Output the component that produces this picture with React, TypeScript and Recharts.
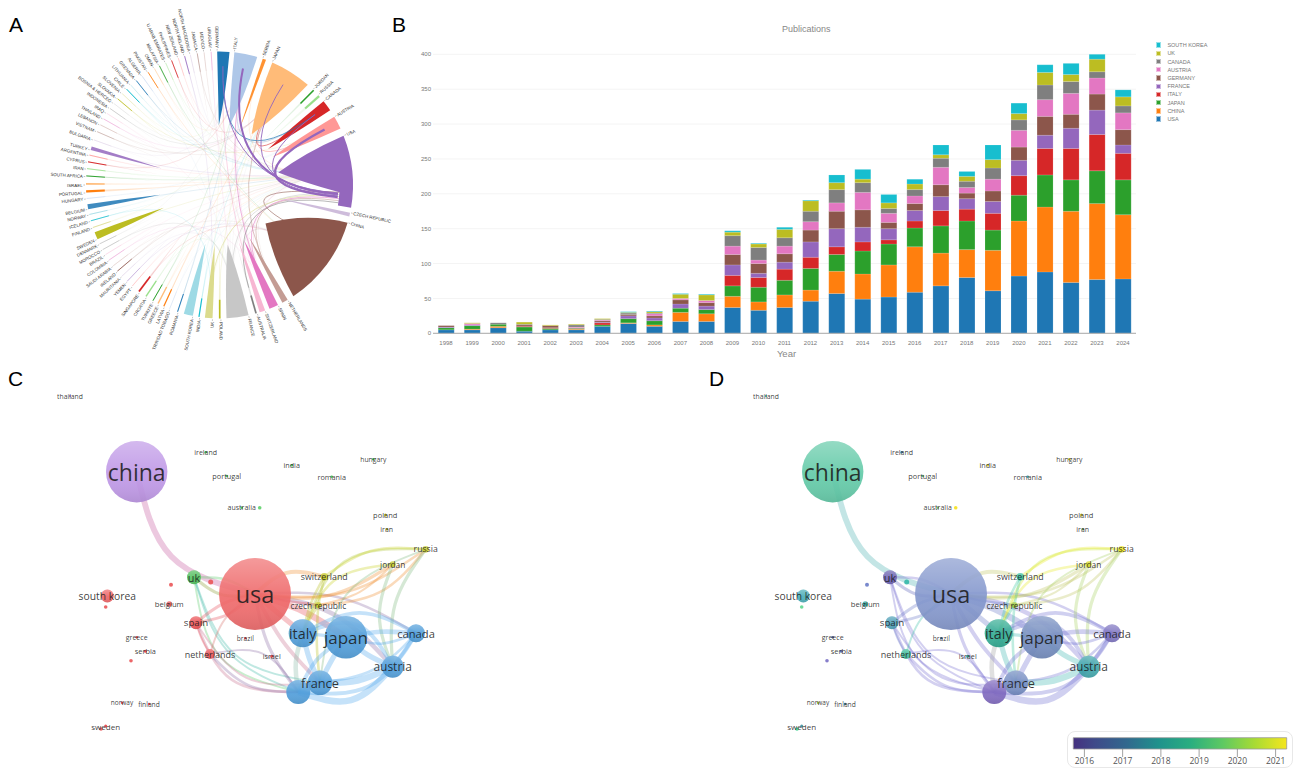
import React from 'react'
import {
  Bar, BarChart, CartesianGrid, ComposedChart, Legend, Line, Pie, PieChart,
  ReferenceArea, Scatter, XAxis, YAxis,
} from 'recharts'

// ---- panel A: chord diagram ----
const chordNames = [
  'GERMANY', 'ITALY', 'SERBIA', 'JAPAN', 'JORDAN', 'RUSSIA', 'CANADA', 'AUSTRIA', 'USA', 'CZECH REPUBLIC',
  'CHINA', 'NETHERLANDS', 'SPAIN', 'SWITZERLAND', 'AUSTRALIA', 'FRANCE', 'POLAND', 'UK', 'INDIA', 'SOUTH KOREA',
  'ROMANIA', 'TRINIDAD TOBAGO', 'LATVIA', 'GREECE', 'TURKIYE', 'CROATIA', 'SINGAPORE', 'EGYPT', 'YEMEN', 'MAURITANIA',
  'IRELAND', 'SAUDI ARABIA', 'COLOMBIA', 'BRAZIL', 'MOROCCO', 'DENMARK', 'SWEDEN', 'FINLAND', 'ICELAND', 'NORWAY',
  'BELGIUM', 'HUNGARY', 'PORTUGAL', 'ISRAEL', 'SOUTH AFRICA', 'IRAN', 'CYPRUS', 'ARGENTINA', 'TURKEY', 'BULGARIA',
  'VIETNAM', 'LEBANON', 'THAILAND', 'IRAQ', 'INDONESIA', 'BOSNIA & HERCEG', 'SLOVAKIA', 'SLOVENIA', 'CHILE', 'LITHUANIA',
  'GRENADA', 'ALGERIA', 'PAKISTAN', 'OMAN', 'MALAYSIA', 'U ARAB EMIRATES', 'PHILIPPINES', 'NEW ZEALAND', 'NORTH IRELAND', 'NORTH MACEDONIA',
  'JAMAICA', 'MEXICO', 'URUGUAY',
]
// degrees clockwise from 12 o'clock
const chordStart = [
  -1, 6.4, 18.9, 23.3, 44.4, 47.6, 51.2, 59.3, 68.3, 102,
  106.4, 149.3, 154, 160, 163.6, 167.4, 179.4, 183, 188.5, 191.5,
  198, 201.8, 204.3, 207, 209.6, 213, 216.6, 220.6, 223.6, 226.8,
  229.6, 232.6, 235.6, 238.4, 240.9, 243.6, 246, 251.2, 254.2, 257,
  259.5, 264, 266.6, 270, 273.6, 276.8, 279.7, 282.7, 285.2, 289.6,
  293.4, 296.6, 299.5, 302.3, 304.8, 307.5, 310, 313, 315.6, 318.2,
  321.2, 324.4, 327.4, 330.6, 333, 336, 338.7, 341.8, 344.6, 347.2,
  350.2, 353.2, 356.2,
]
const chordSpan = [
  5.3, 10, 1.5, 18.1, 0.9, 1.3, 4.8, 5.7, 31.5, 1.6,
  40, 2.6, 4, 2.5, 1, 9.6, 1, 3.3, 0.7, 4,
  0.6, 0.3, 0.7, 0.8, 0.6, 0.8, 1, 0.4, 0.4, 0.3,
  0.5, 0.3, 0.4, 0.4, 0.3, 0.5, 3.3, 0.5, 0.5, 0.5,
  2.2, 0.4, 1.3, 1, 0.6, 0.5, 0.6, 0.5, 1.6, 0.3,
  0.3, 0.4, 0.4, 0.3, 0.3, 0.3, 0.5, 0.4, 0.6, 0.4,
  0.5, 0.4, 0.5, 0.4, 0.5, 0.4, 0.5, 0.4, 0.5, 0.3,
  0.4, 0.3, 0.4,
]
const chordPalette = [
  '#1f77b4', '#aec7e8', '#ff7f0e', '#ffbb78', '#2ca02c', '#98df8a', '#d62728', '#ff9896', '#9467bd', '#c5b0d5',
  '#8c564b', '#c49c94', '#e377c2', '#f7b6d2', '#7f7f7f', '#c7c7c7', '#bcbd22', '#dbdb8d', '#17becf', '#9edae5',
]
// pale ribbons
const chordFaint = [
  ['ROMANIA', 'ITALY'], ['TRINIDAD TOBAGO', 'USA'], ['LATVIA', 'JAPAN'], ['GREECE', 'USA'], ['TURKIYE', 'ITALY'],
  ['CROATIA', 'FRANCE'], ['SINGAPORE', 'CHINA'], ['EGYPT', 'USA'], ['YEMEN', 'CHINA'], ['MAURITANIA', 'FRANCE'],
  ['IRELAND', 'USA'], ['SAUDI ARABIA', 'CHINA'], ['COLOMBIA', 'SPAIN'], ['BRAZIL', 'USA'], ['MOROCCO', 'FRANCE'],
  ['DENMARK', 'GERMANY'], ['SWEDEN', 'USA'], ['FINLAND', 'JAPAN'], ['ICELAND', 'UK'], ['NORWAY', 'AUSTRIA'],
  ['BELGIUM', 'USA'], ['HUNGARY', 'AUSTRIA'], ['PORTUGAL', 'USA'], ['ISRAEL', 'USA'], ['SOUTH AFRICA', 'USA'],
  ['IRAN', 'USA'], ['CYPRUS', 'ITALY'], ['ARGENTINA', 'USA'], ['TURKEY', 'USA'], ['BULGARIA', 'GERMANY'],
  ['VIETNAM', 'JAPAN'], ['LEBANON', 'CANADA'], ['THAILAND', 'JAPAN'], ['IRAQ', 'SPAIN'], ['INDONESIA', 'JAPAN'],
  ['BOSNIA & HERCEG', 'ITALY'], ['SLOVAKIA', 'AUSTRIA'], ['SLOVENIA', 'GERMANY'], ['CHILE', 'USA'], ['LITHUANIA', 'USA'],
  ['GRENADA', 'USA'], ['ALGERIA', 'FRANCE'], ['PAKISTAN', 'CHINA'], ['OMAN', 'ITALY'], ['MALAYSIA', 'CHINA'],
  ['U ARAB EMIRATES', 'USA'], ['PHILIPPINES', 'JAPAN'], ['NEW ZEALAND', 'USA'], ['NORTH IRELAND', 'UK'], ['NORTH MACEDONIA', 'GERMANY'],
  ['JAMAICA', 'USA'], ['MEXICO', 'SPAIN'], ['URUGUAY', 'FRANCE'],
  ['FRANCE', 'USA'], ['FRANCE', 'JAPAN'], ['FRANCE', 'ITALY'], ['UK', 'USA'], ['UK', 'GERMANY'], ['NETHERLANDS', 'USA'],
  ['SPAIN', 'USA'], ['SPAIN', 'ITALY'], ['SOUTH KOREA', 'USA'], ['SOUTH KOREA', 'JAPAN'], ['POLAND', 'JAPAN'],
  ['AUSTRALIA', 'CHINA'], ['INDIA', 'JAPAN'], ['SWITZERLAND', 'ITALY'], ['SWITZERLAND', 'USA'], ['SERBIA', 'USA'],
]
const chordUnder = [
  ['CHINA', 'USA'], ['FRANCE', 'USA'], ['UK', 'USA'], ['SPAIN', 'USA'], ['NETHERLANDS', 'USA'], ['AUSTRALIA', 'USA'],
  ['AUSTRIA', 'JAPAN'], ['CANADA', 'JAPAN'], ['ITALY', 'CANADA'], ['SWITZERLAND', 'GERMANY'], ['SPAIN', 'ITALY'], ['NETHERLANDS', 'JAPAN'],
]
const chordOver = [['USA', 'GERMANY'], ['USA', 'ITALY'], ['USA', 'JAPAN'], ['USA', 'CANADA'], ['USA', 'AUSTRIA'], ['GERMANY', 'CANADA']]
const chordOverWeight = [0.9, 2, 0.9, 0.9, 2.4, 0.7]

const chordSlices: any[] = []
chordNames.forEach((name, i) => {
  chordSlices.push({ name, value: chordSpan[i], idx: i })
  const next = i + 1 < chordNames.length ? chordStart[i + 1] : chordStart[0] + 360
  chordSlices.push({ name: '', value: next - chordStart[i] - chordSpan[i], idx: -1 })
})

const CX = 219.5
const CY = 185
const R = 133.5

const toXY = (r: number, clock: number) => {
  const t = (clock * Math.PI) / 180
  return [CX + r * Math.sin(t), CY - r * Math.cos(t)]
}
const midOf = (name: string) => {
  const i = chordNames.indexOf(name)
  return chordStart[i] + chordSpan[i] / 2
}
const colorOf = (i: number) => chordPalette[i % 20]
const ribbon = (c1: number, c2: number, r1 = 0.88, r2 = 0.88) => {
  const a = toXY(R * r1, c1)
  const b = toXY(R * r2, c2)
  return `M${a[0]},${a[1]} Q${CX},${CY} ${b[0]},${b[1]}`
}

// tip direction of the big wedges where it is not the middle of the arc
const wedgeTip: Record<string, number> = { USA: 78, CHINA: 130, ITALY: 9.5, GERMANY: -0.6 }

function ChordWedge(props: any) {
  const { payload, startAngle, endAngle } = props
  const i = payload.idx
  if (i < 0) return null
  const c1 = 90 - startAngle
  const c2 = 90 - endAngle
  const name = chordNames[i]
  const col = colorOf(i)
  const span = c2 - c1
  const tipC = wedgeTip[name] ?? (c1 + c2) / 2
  const tip = toXY(R * 0.45, tipC)
  const p1 = toXY(R, c1)
  const p2 = toXY(R, c2)
  const ctl1 = toXY(R * 0.68, c1 + span * 0.03)
  const ctl2 = toXY(R * 0.68, c2 - span * 0.05)
  let wedge = null as any
  if (name === 'USA') {
    // lower edge stops at the fan of ribbons and leaves an outer band
    const sh = toXY(R * 0.9, 93.5)
    const sh2 = toXY(R * 0.9, c2)
    wedge = (
      <path
        d={`M${p1} A${R},${R} 0 0 1 ${p2} L${sh2} A${R * 0.9},${R * 0.9} 0 0 0 ${sh} Q${toXY(R * 0.62, 88)} ${tip} Q${ctl1} ${p1}`}
        fill={col}
      />
    )
  } else if (span >= 1.4) {
    wedge = (
      <path d={`M${p1} A${R},${R} 0 0 1 ${p2} Q${ctl2} ${tip} Q${ctl1} ${p1}`} fill={col} opacity={span < 2.3 ? 0.85 : 1} />
    )
  } else {
    const pIn = toXY(R * 0.86, (c1 + c2) / 2)
    const pOut = toXY(R, (c1 + c2) / 2)
    wedge = (
      <g>
        <path d={`M${p1} A${R},${R} 0 0 1 ${p2} L${tip} Z`} fill={col} opacity={0.14} />
        <line x1={pOut[0]} y1={pOut[1]} x2={pIn[0]} y2={pIn[1]} stroke={col} strokeOpacity={span < 0.45 ? 0.6 : 1} strokeWidth={Math.max(0.5, (span * Math.PI * R) / 260)} />
      </g>
    )
  }
  const norm = ((c1 % 360) + 360) % 360
  const right = norm < 180
  const t0 = toXY(R + 1, c1)
  const t1 = toXY(R + 2.6, c1)
  const at = toXY(R + 3.4, c1)
  return (
    <g>
      {wedge}
      <line x1={t0[0]} y1={t0[1]} x2={t1[0]} y2={t1[1]} stroke="#666" strokeWidth={0.4} />
      <text
        x={at[0]}
        y={at[1]}
        fontSize={4.4}
        fill="#333"
        fontFamily="Liberation Sans"
        textAnchor={right ? 'start' : 'end'}
        dominantBaseline="central"
        transform={`rotate(${right ? norm - 90 : norm - 270} ${at[0]} ${at[1]})`}
      >
        {name}
      </text>
    </g>
  )
}

function ChordUnderLayer(props: any) {
  const i = props.payload.idx
  if (i < 0) return null
  const name = chordNames[i]
  return (
    <g fill="none">
      {chordFaint.filter((l) => l[0] === name).map((l, k) => (
        <path key={k} d={ribbon(midOf(l[0]), midOf(l[1]) + k * 1.3, 0.86, 0.92)} stroke={colorOf(i)} strokeOpacity={0.13} strokeWidth={0.9} />
      ))}
      {chordUnder.map((l, k) => {
        if (l[0] !== name) return null
        const toUsa = l[1] === 'USA'
        return (
          <path
            key={k}
            d={ribbon(name === 'CHINA' ? 119 : midOf(name), toUsa ? 93.5 + k * 1 : midOf(l[1]), name === 'CHINA' ? 0.6 : 0.8, 0.9)}
            stroke={colorOf(i)}
            strokeOpacity={0.7}
            strokeWidth={0.8}
          />
        )
      })}
    </g>
  )
}

function ChordOverLayer(props: any) {
  const i = props.payload.idx
  if (i < 0) return null
  const name = chordNames[i]
  return (
    <g fill="none">
      {chordOver.map((l, k) =>
        l[0] !== name ? null : (
          <path
            key={k}
            d={ribbon(name === 'USA' ? 93.8 + k * 0.5 : midOf(name), midOf(l[1]), 0.89, 0.89)}
            stroke={colorOf(i)}
            strokeWidth={chordOverWeight[k]}
            strokeLinecap="butt"
          />
        ),
      )}
    </g>
  )
}

function ChordPanel() {
  const pieProps = {
    data: chordSlices,
    dataKey: 'value',
    cx: CX,
    cy: CY,
    innerRadius: 0,
    outerRadius: R,
    startAngle: 91,
    endAngle: -269,
    paddingAngle: 0,
    stroke: 'none',
    isAnimationActive: false,
  }
  return (
    <div style={{ position: 'absolute', left: 0, top: 0 }}>
      <PieChart width={400} height={368} margin={{ top: 0, right: 0, bottom: 0, left: 0 }}>
        <Pie {...pieProps} shape={ChordUnderLayer} />
        <Pie {...pieProps} shape={ChordWedge} />
        <Pie {...pieProps} shape={ChordOverLayer} />
      </PieChart>
    </div>
  )
}

// ---- panel B: stacked bars ----
const years = ['1998', '1999', '2000', '2001', '2002', '2003', '2004', '2005', '2006', '2007', '2008', '2009', '2010', '2011', '2012', '2013', '2014', '2015', '2016', '2017', '2018', '2019', '2020', '2021', '2022', '2023', '2024']
const usa = [5, 5, 8, 3, 5, 5, 10, 14, 10, 17, 17, 37, 33, 37, 46, 57, 49, 52, 59, 68, 80, 61, 82, 88, 73, 77, 78]
const china = [0, 1, 2, 0, 0, 1, 0, 1, 2, 13, 11, 16, 12, 18, 16, 32, 36, 46, 65, 47, 40, 58, 79, 93, 102, 109, 92]
const japan = [3, 5, 3, 6, 2, 1, 2, 6, 6, 6, 6, 15, 21, 21, 31, 24, 33, 30, 27, 39, 41, 29, 37, 46, 45, 47, 50]
const italy = [0, 0, 0, 1, 1, 0, 3, 0, 0, 0, 0, 15, 14, 16, 16, 11, 13, 6, 10, 22, 17, 24, 28, 38, 45, 52, 38]
const france = [1, 1, 0, 0, 0, 0, 1, 4, 4, 6, 5, 15, 6, 10, 22, 26, 21, 16, 15, 20, 15, 17, 22, 19, 29, 35, 12]
const germany = [2, 0, 0, 2, 3, 1, 2, 2, 3, 6, 5, 15, 14, 12, 17, 25, 25, 9, 10, 17, 8, 15, 19, 27, 20, 23, 22]
const austria = [0, 2, 0, 0, 0, 1, 1, 0, 3, 2, 3, 12, 5, 11, 12, 12, 25, 13, 11, 25, 8, 17, 24, 24, 30, 23, 24]
const canada = [0, 0, 2, 1, 0, 3, 1, 2, 1, 0, 0, 15, 18, 12, 15, 19, 14, 7, 9, 13, 9, 16, 15, 21, 17, 9, 10]
const uk = [0, 1, 0, 3, 1, 1, 1, 1, 2, 6, 8, 5, 5, 12, 15, 10, 5, 8, 8, 5, 7, 12, 9, 18, 10, 18, 13]
const southKorea = [0, 0, 0, 0, 0, 0, 0, 1, 1, 1, 1, 2, 1, 3, 1, 11, 14, 12, 7, 14, 7, 21, 15, 11, 16, 7, 10]
const yTicks = [0, 50, 100, 150, 200, 250, 300, 350, 400]

const seriesNames = ['USA', 'CHINA', 'JAPAN', 'ITALY', 'FRANCE', 'GERMANY', 'AUSTRIA', 'CANADA', 'UK', 'SOUTH KOREA']
const seriesValues = [usa, china, japan, italy, france, germany, austria, canada, uk, southKorea]
const seriesColors = ['#1f77b4', '#ff7f0e', '#2ca02c', '#d62728', '#9467bd', '#8c564b', '#e377c2', '#7f7f7f', '#bcbd22', '#17becf']

const barRows = years.map((year, i) => {
  const row: any = { year }
  seriesNames.forEach((s, k) => { row[s] = seriesValues[k][i] })
  return row
})

function PubsLegend() {
  return (
    <div>
      {[...seriesNames].reverse().map((s) => (
        <div key={s} style={{ height: 8.23, display: 'flex', alignItems: 'center', fontFamily: 'Liberation Sans', fontSize: 5.5, color: '#777' }}>
          <span style={{ width: 5.4, height: 5.4, background: seriesColors[seriesNames.indexOf(s)], marginRight: 6, boxSizing: 'border-box', border: '0.5px solid rgba(255,255,255,0.55)' }} />
          {s}
        </div>
      ))}
    </div>
  )
}

function BarPanel() {
  const tick = { fontSize: 6, fill: '#777', fontFamily: 'Liberation Sans' }
  return (
    <div style={{ position: 'absolute', left: 400, top: 0 }}>
      <BarChart width={893} height={370} data={barRows} barCategoryGap="20%" margin={{ top: 54.3, right: 157, bottom: 0, left: 0 }}>
        <CartesianGrid vertical={false} stroke="#f4f4f4" />
        <XAxis
          dataKey="year"
          interval={0}
          height={36.7}
          tick={tick}
          tickLine={false}
          tickMargin={1}
          axisLine={{ stroke: '#aaa' }}
          label={{ value: 'Year', position: 'insideBottom', offset: 13, dx: 2, style: { fontSize: 9.5, fill: '#888', fontFamily: 'Liberation Sans' } }}
        />
        <YAxis width={33} domain={[0, 400]} ticks={yTicks} tick={{ ...tick, dx: 5 }} tickLine={false} axisLine={false} tickMargin={1} />
        <Legend
          content={PubsLegend}
          layout="horizontal"
          verticalAlign="middle"
          align="center"
          wrapperStyle={{ left: 756, top: 41, width: 70, height: 84 }}
        />
        {seriesNames.map((s, k) => (
          <Bar key={s} dataKey={s} stackId="pubs" fill={seriesColors[k]} stroke="rgba(255,255,255,0.35)" strokeWidth={0.4} isAnimationActive={false} />
        ))}
      </BarChart>
    </div>
  )
}

// ---- panels C and D: co-authorship networks ----
const nodeIds = [
  'china', 'usa', 'japan', 'italy', 'france', 'germany', 'austria', 'canada', 'south korea', 'uk',
  'spain', 'netherlands', 'switzerland', 'czech republic', 'russia', 'jordan', 'belgium', 'dot1', 'dot2', 'dot3',
  'dot4', 'greece', 'serbia', 'brazil', 'israel', 'norway', 'finland', 'sweden', 'dot5', 'thailand',
  'ireland', 'india', 'portugal', 'romania', 'hungary', 'australia', 'dot6', 'poland', 'iran',
]
const nodeX = [
  136.7, 255, 346, 302.7, 320, 298.3, 392.7, 416, 107.3, 194,
  196, 210, 324.3, 318.3, 425.7, 392.7, 169.3, 171, 210.7, 105.7,
  131, 136.7, 145.3, 245.3, 271.7, 122, 149, 105.7, 101, 70,
  205.7, 291.7, 226.7, 331.7, 373.3, 241.7, 259.7, 385.3, 386.7,
]
const nodeY = [
  471.7, 594, 637.3, 633.3, 682.7, 692, 666.7, 633.3, 596, 577.3,
  622.7, 654, 576.7, 605, 549.3, 564.3, 604, 584.7, 582, 607,
  660.7, 637.3, 651.3, 638.3, 656.3, 702.7, 704, 726, 729, 396,
  452.3, 465.3, 476, 476.7, 459.3, 507.7, 507.7, 515, 529.3,
]
const nodeRadius = [
  30.7, 36, 21.3, 14, 12.3, 12, 11, 9, 6.5, 7,
  6.5, 5, 3.7, 3, 3.3, 3, 2.7, 2, 2.5, 1.8,
  1.8, 1.2, 1.5, 1.3, 1.5, 1.2, 1.2, 1.5, 1.8, 1,
  1.3, 1.3, 1.3, 1.3, 1.3, 1.3, 1.8, 1.5, 1.3,
]
const nodeFont = [
  23, 23.5, 17, 14.3, 12.8, 0, 12, 11.2, 10.3, 10.8,
  9.7, 9, 8.8, 8.4, 8.7, 8.3, 7.7, 0, 0, 0,
  0, 7, 7.4, 6.7, 7.2, 6.5, 6.7, 8, 0, 6.8,
  7, 7.2, 7.3, 7.3, 6.8, 7, 0, 7.5, 7,
]
const nodeColorsC = [
  '#bd94e6', '#ee6465', '#4a9ad8', '#4a9ad8', '#4a9ad8', '#4a9ad8', '#4a9ad8', '#4a9ad8', '#ec5f62', '#4fc05a',
  '#ea4f52', '#ea5558', '#c4c820', '#c4c820', '#c8cc2c', '#c8cc2c', '#ea5558', '#ea5558', '#ea5558', '#ea5558',
  '#ea5558', '#ea4045', '#ea4045', '#ea4045', '#ea4045', '#ea4045', '#ea4045', '#ea4045', '#ea5558', '#9060c0',
  '#3fb84f', '#3fb84f', '#3fb84f', '#3fb84f', '#3fb84f', '#3fb84f', '#5fd06a', '#b8bc20', '#b8bc20',
]
const nodeColorsD = [
  '#5cc8a4', '#8093cb', '#6f88bc', '#2aa78e', '#7088c0', '#7b64bd', '#3aa3a8', '#7a70bf', '#42aab5', '#6a5fb0',
  '#4a9db5', '#3fbf9a', '#33bf9e', '#9cc83a', '#efe51d', '#d8d826', '#2aa098', '#6a7cc8', '#35b8a8', '#5fd890',
  '#7a70c5', '#4050a0', '#5060b0', '#3a6ea0', '#2aa090', '#a0c830', '#2a7090', '#4090a0', '#3dd090', '#20a080',
  '#3070a0', '#e0d020', '#50b070', '#2f8f9f', '#d8c820', '#70b060', '#f5e11f', '#c0c030', '#70a060',
]

// from, to, strength, bend, colour family
const links: [string, string, number, number, string][] = [
  ['china', 'usa', 4.5, 0.2, 'china'],
  ['uk', 'usa', 2.5, 0.15, 'ukOlive'], ['uk', 'usa', 2, -0.1, 'ukGreen'],
  ['uk', 'germany', 1.5, 0.22, 'ukGreen'], ['uk', 'france', 1.5, 0.2, 'ukTeal'], ['uk', 'germany', 1.5, 0.16, 'ukTeal'],
  ['spain', 'usa', 2.5, -0.08, 'red'], ['spain', 'usa', 2, 0.1, 'red'], ['spain', 'germany', 2, 0.22, 'redLav'],
  ['spain', 'france', 1.5, 0.2, 'redLav'], ['spain', 'netherlands', 1.5, 0.04, 'red'],
  ['netherlands', 'usa', 1.5, -0.12, 'redTeal'], ['netherlands', 'germany', 1.5, -0.22, 'mauve'], ['netherlands', 'germany', 2, 0.14, 'mauve'],
  ['usa', 'italy', 4, 0, 'red'], ['usa', 'japan', 5, -0.05, 'red'], ['usa', 'france', 3, 0.05, 'redLav'],
  ['usa', 'germany', 2.5, 0.08, 'mauve'], ['usa', 'austria', 3.5, -0.12, 'mauve'], ['usa', 'canada', 2, -0.1, 'mauve'],
  ['usa', 'czech republic', 2, 0.02, 'red'], ['usa', 'switzerland', 3, -0.18, 'orange'], ['usa', 'jordan', 2.5, 0.12, 'orange'],
  ['usa', 'russia', 2, 0.12, 'orange'], ['czech republic', 'russia', 2, 0.14, 'orange'], ['czech republic', 'jordan', 1.5, 0.1, 'orange'],
  ['italy', 'russia', 2, -0.24, 'yellowGreen'], ['italy', 'jordan', 2, -0.2, 'yellow'], ['france', 'russia', 1.5, -0.2, 'sage'],
  ['switzerland', 'russia', 2, -0.12, 'yellow'], ['switzerland', 'italy', 2, 0.05, 'olive'], ['switzerland', 'czech republic', 2, 0, 'olive'],
  ['austria', 'russia', 2.5, -0.12, 'sage'], ['austria', 'jordan', 2.5, -0.13, 'sage'],
  ['czech republic', 'france', 2, 0.03, 'olive'], ['czech republic', 'italy', 2, 0.02, 'olive'],
  ['italy', 'japan', 2.5, 0, 'blueTeal'], ['italy', 'france', 4, 0.04, 'blueTeal'], ['italy', 'germany', 3.5, 0.08, 'gray'],
  ['japan', 'france', 4, 0.02, 'blue'], ['japan', 'germany', 3, 0.1, 'blue'], ['japan', 'austria', 4, 0.06, 'blueTeal'],
  ['japan', 'canada', 3.5, -0.05, 'blue'], ['japan', 'canada', 2, 0.12, 'blue'], ['italy', 'austria', 3, -0.28, 'blue'],
  ['italy', 'canada', 3, -0.18, 'blue'], ['france', 'austria', 5, 0.08, 'blueTeal'], ['germany', 'austria', 5, 0.22, 'blue'],
  ['germany', 'canada', 3, 0.2, 'blue'], ['france', 'canada', 2, 0.12, 'blue'], ['austria', 'canada', 3, 0.03, 'blue'],
  ['france', 'germany', 3, 0, 'blue'],
]
const familyC: Record<string, string> = {
  china: '#c5579d', blue: '#50a8ed', blueTeal: '#50a8ed', red: '#e8505a', redLav: '#c9708f', mauve: '#8f6fa8',
  ukGreen: '#5ccb6a', ukOlive: '#8a9a30', ukTeal: '#40b8a8', redTeal: '#d8706a', orange: '#f09030',
  yellow: '#c8d020', yellowGreen: '#b0c840', sage: '#80b880', olive: '#b8c020', gray: '#8ab8a8',
}
const familyD: Record<string, string> = {
  china: '#48b1b1', blue: '#6f70d0', blueTeal: '#3cb6b0', red: '#6a78c8', redLav: '#7a6fd0', mauve: '#7a6fd0',
  ukGreen: '#7a6fd0', ukOlive: '#5a60b8', ukTeal: '#7a6fd0', redTeal: '#3cc0a8', orange: '#c0c460',
  yellow: '#e6ea20', yellowGreen: '#c8e630', sage: '#a8d060', olive: '#40c8a0', gray: '#a0a0a0',
}

const nodeRows = nodeIds.map((id, i) => ({ id, x: nodeX[i], y: nodeY[i], r: nodeRadius[i], font: nodeFont[i] }))

const linkPoints = (from: string, to: string, bend: number) => {
  const a = nodeRows[nodeIds.indexOf(from)]
  const b = nodeRows[nodeIds.indexOf(to)]
  const dx = b.x - a.x
  const dy = b.y - a.y
  return [
    { x: a.x, y: a.y },
    { x: (a.x + b.x) / 2 - dy * bend, y: (a.y + b.y) / 2 + dx * bend },
    { x: b.x, y: b.y },
  ]
}

function NodeLabel(props: any) {
  const { cx, cy, payload } = props
  if (!payload.font) return null
  return (
    <text x={cx} y={cy} fontSize={payload.font} fontFamily="Open Sans" fill="#1c1c1c" fillOpacity={0.88} textAnchor="middle" dominantBaseline="central">
      {payload.id}
    </text>
  )
}

function NetworkPanel({ left, colors, family }: { left: number; colors: string[]; family: Record<string, string> }) {
  const NodeDot = (props: any) => {
    const { cx, cy, payload } = props
    const fill = colors[nodeIds.indexOf(payload.id)]
    return (
      <g>
        <circle cx={cx} cy={cy} r={payload.r} fill={fill} fillOpacity={0.9} />
        {payload.r > 2.5 && <circle cx={cx} cy={cy} r={payload.r} fill="url(#nodeSheen)" />}
      </g>
    )
  }
  return (
    <div style={{ position: 'absolute', left, top: 370 }}>
      <ComposedChart width={600} height={398} margin={{ top: 0, right: 0, bottom: 0, left: 0 }}>
        <defs>
          <linearGradient id="nodeSheen" x1="0" y1="0" x2="0" y2="1">
            <stop offset="0%" stopColor="#fff" stopOpacity={0.28} />
            <stop offset="55%" stopColor="#fff" stopOpacity={0.02} />
            <stop offset="100%" stopColor="#000" stopOpacity={0.08} />
          </linearGradient>
        </defs>
        <XAxis type="number" dataKey="x" domain={[0, 600]} hide />
        <YAxis type="number" dataKey="y" domain={[370, 768]} reversed hide />
        {links.map((l, k) => (
          <Line
            key={k}
            data={linkPoints(l[0], l[1], l[3])}
            dataKey="y"
            type="natural"
            stroke={family[l[4]]}
            strokeOpacity={0.33}
            strokeWidth={l[2] * 1.3}
            dot={false}
            activeDot={false}
            legendType="none"
            isAnimationActive={false}
          />
        ))}
        <Scatter data={nodeRows} dataKey="y" shape={NodeDot} isAnimationActive={false} />
        <Scatter data={nodeRows} dataKey="y" shape={NodeLabel} isAnimationActive={false} />
      </ComposedChart>
    </div>
  )
}

// colour bar of panel D
const barYears = [2016, 2017, 2018, 2019, 2020, 2021]
const barRowsD = barYears.map((x) => ({ x, y: 0 }))
const barStops: [number, string][] = [[0, '#45307f'], [0.1, '#3e4a89'], [0.25, '#31688e'], [0.4, '#1f928c'], [0.55, '#2aae80'], [0.7, '#5ec962'], [0.85, '#a8db34'], [1, '#f5e61e']]

function YearTick(props: any) {
  const { x, y, payload } = props
  return (
    <g>
      <line x1={x} x2={x} y1={y - 8} y2={y} stroke="#8a8a8a" strokeWidth={0.8} />
      <text x={x} y={y + 7} fontSize={8.5} fill="#555" fontFamily="Open Sans" textAnchor="middle">{payload.value}</text>
    </g>
  )
}

function ColorBar() {
  return (
    <>
      <div style={{ position: 'absolute', left: 1067, top: 731, width: 224, height: 35, border: '1px solid #e8e8e8', borderRadius: 8, background: '#fff' }} />
      <div style={{ position: 'absolute', left: 1060, top: 731 }}>
        <ComposedChart width={233} height={36} data={barRowsD} margin={{ top: 6.7, right: 6.3, bottom: 0, left: 13.3 }}>
          <defs>
            <linearGradient id="yearRamp" x1="0" y1="0" x2="1" y2="0">
              {barStops.map((s) => <stop key={s[0]} offset={s[0]} stopColor={s[1]} />)}
            </linearGradient>
          </defs>
          <XAxis type="number" dataKey="x" domain={[2015.71, 2021.29]} ticks={barYears} height={18} axisLine={false} tickLine={false} tick={YearTick} interval={0} />
          <YAxis type="number" dataKey="y" domain={[0, 1]} hide />
          <ReferenceArea x1={2015.71} x2={2021.29} y1={0} y2={1} fill="url(#yearRamp)" fillOpacity={1} stroke="#999" strokeWidth={0.8} />
        </ComposedChart>
      </div>
    </>
  )
}

const panelLetters: [string, number, number][] = [['A', 9, 13], ['B', 392, 13], ['C', 8, 367], ['D', 709, 367]]

export default function App() {
  return (
    <div style={{ position: 'absolute', left: 0, top: 0, width: 1293, height: 768, background: '#fff', overflow: 'hidden' }}>
      <ChordPanel />
      <BarPanel />
      <NetworkPanel left={0} colors={nodeColorsC} family={familyC} />
      <NetworkPanel left={695.6} colors={nodeColorsD} family={familyD} />
      <ColorBar />
      <div style={{ position: 'absolute', left: 782, top: 24, fontFamily: 'Liberation Sans', fontSize: 9, color: '#888' }}>Publications</div>
      {panelLetters.map(([t, x, y]) => (
        <div key={t} style={{ position: 'absolute', left: x, top: y, fontFamily: 'Liberation Sans', fontSize: 21, lineHeight: '24px', color: '#000' }}>{t}</div>
      ))}
    </div>
  )
}
